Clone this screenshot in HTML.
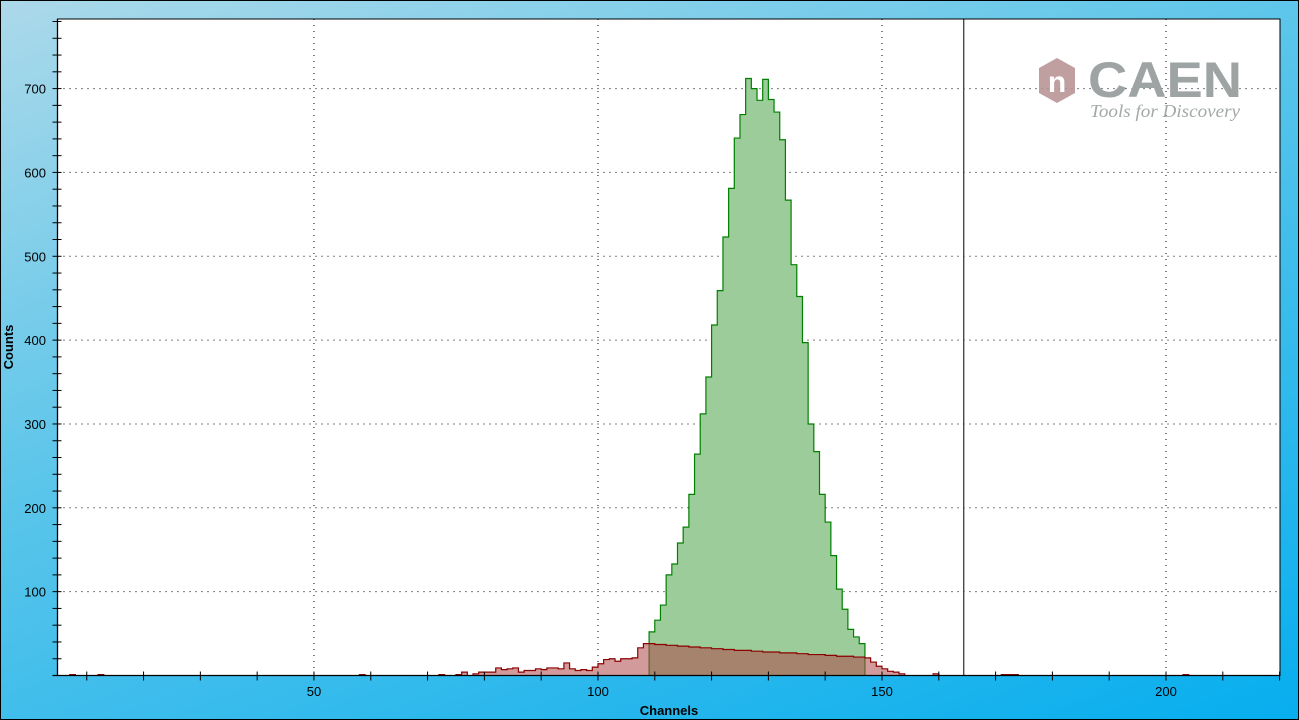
<!DOCTYPE html>
<html><head><meta charset="utf-8"><style>
html,body{margin:0;padding:0;}
body{width:1299px;height:720px;overflow:hidden;font-family:"Liberation Sans",sans-serif;}
#bg{position:absolute;left:0;top:0;width:1297px;height:718px;border:1px solid #000;background:linear-gradient(160deg,#acd9ea 0%,#5ec6ea 40%,#07aeee 100%);}
</style></head><body>
<div id="bg"></div>
<svg id="chart" width="1299" height="720" style="position:absolute;left:0;top:0"></svg>
<script>
const greenStart = 109;
const greenCounts = [52,66,84,120,133,158,177,216,264,312,356,418,459,523,581,641,669,712,700,686,711,687,672,639,567,490,452,397,300,267,216,183,143,103,79,55,46,38];
const redChannels = [7,12,58,72,75,76,78,79,80,81,82,83,84,85,86,87,88,89,90,91,92,93,94,95,96,97,98,99,100,101,102,103,104,105,106,107,108,
109,110,111,112,113,114,115,116,117,118,119,120,121,122,123,124,125,126,127,128,129,130,131,132,133,134,135,136,137,138,139,140,141,142,143,144,145,146,
147,148,149,150,151,152,153,159,171,172,173,203];
const redCounts = [1,1,1,1,1,4,2,4,4,4,9,7,8,9,4,6,6,8,7,9,9,8,15,8,6,7,6,10,14,19,20,17,20,20,21,33,38,
38,37,37,36,36,35,35,34,34,33,33,32,32,31,31,30,30,30,29,29,28,28,28,27,27,27,26,26,25,25,25,24,24,23,23,23,22,22,
21,16,11,8,5,4,2,2,1,1,1,1];
const xTickLabels = [50,100,150,200];
const yTickLabels = [100,200,300,400,500,600,700];
const markerChannel = 164.4;

const NS='http://www.w3.org/2000/svg';
const svg=document.getElementById('chart');
const L=57.5,R=1280,T=19,B=675.5;
const xMin=4.85,xMax=220.07,yMax=783;
const xs=c=>L+(c-xMin)/(xMax-xMin)*(R-L);
const ys=v=>B-v/yMax*(B-T);
function mk(tag,attrs,parent){const e=document.createElementNS(NS,tag);for(const k in attrs)e.setAttribute(k,attrs[k]);(parent||svg).appendChild(e);return e;}

const plot=mk('rect',{x:L,y:T,width:R-L,height:B-T,fill:'#fff',stroke:'#000','stroke-width':1});



xTickLabels.forEach(v=>{const g=mk('line',{x1:xs(v),x2:xs(v),y1:T,y2:B,stroke:'#000','stroke-dasharray':'1,5'});

});
yTickLabels.forEach(v=>{const g=mk('line',{x1:L,x2:R,y1:ys(v),y2:ys(v),stroke:'#000','stroke-dasharray':'1,5'});

});

const logo=mk('g',{});


mk('polygon',{points:'1057,58 1075,68 1075,93 1057,103 1039,93 1039,68',fill:'#b58e90',opacity:'0.85'},logo);
const nt=mk('text',{x:1057,y:92,'text-anchor':'middle','font-size':'30','font-weight':'bold',fill:'#fff'},logo);nt.textContent='n';
const ct=mk('text',{x:1088,y:97,'font-size':'50','font-weight':'bold',fill:'#9ea3a3','textLength':'154','lengthAdjust':'spacingAndGlyphs'},logo);ct.textContent='CAEN';
const tt=mk('text',{x:1090,y:117,'font-size':'18','font-style':'italic','font-family':'Liberation Serif,serif',fill:'#a3a8a8','textLength':'150','lengthAdjust':'spacingAndGlyphs'},logo);tt.textContent='Tools for Discovery';

function stepPath(chs,vals){
  let d='';
  chs.forEach((c,i)=>{const x0=xs(c),x1=xs(c+1),y=ys(vals[i]);
    d+=`M${x0},${B}L${x0},${y}L${x1},${y}L${x1},${B}Z`;});
  return d;
}
function outline(chs,vals){
  let d='';let prevEnd=null;
  chs.forEach((c,i)=>{const x0=xs(c),x1=xs(c+1),y=ys(vals[i]);
    if(prevEnd===c) d+=`L${x0},${y}`; else d+=`M${x0},${B}L${x0},${y}`;
    d+=`L${x1},${y}`;
    const nextC=chs[i+1];
    if(nextC!==c+1) d+=`L${x1},${B}`;
    prevEnd=c+1;});
  return d;
}
const gChs=greenCounts.map((v,i)=>greenStart+i);
const gf=mk('path',{d:stepPath(gChs,greenCounts),fill:'#9ccc99',stroke:'none'});


const go=mk('path',{d:outline(gChs,greenCounts),fill:'none',stroke:'#008000','stroke-width':1.2});


const rf=mk('path',{d:stepPath(redChannels,redCounts),fill:'rgba(174,73,73,0.556)',stroke:'none'});


const ro=mk('path',{d:outline(redChannels,redCounts),fill:'none',stroke:'#8b0000','stroke-width':1.2});



const ml=mk('line',{x1:xs(markerChannel),x2:xs(markerChannel),y1:T,y2:B,stroke:'#000','stroke-width':1});



const xa=mk('line',{x1:L-5,x2:R,y1:B,y2:B,stroke:'#000','stroke-width':1.3});


const ya=mk('line',{x1:L,x2:L,y1:T,y2:B,stroke:'#000','stroke-width':1.3});


for(let c=10;c<=220;c+=10){const t=mk('line',{x1:xs(c),x2:xs(c),y1:B-4,y2:B+5,stroke:'#000','stroke-width':1});

}
for(let v=20;v<yMax;v+=20){const t=mk('line',{x1:L-5,x2:L+4,y1:ys(v),y2:ys(v),stroke:'#000','stroke-width':1});

}
xTickLabels.forEach(v=>{const t=mk('text',{x:xs(v),y:696,'text-anchor':'middle','font-size':'13',fill:'#000'});t.textContent=v;

});
yTickLabels.forEach(v=>{const t=mk('text',{x:46,y:ys(v)+5,'text-anchor':'end','font-size':'13',fill:'#000'});t.textContent=v;

});
const xt=mk('text',{x:669,y:715,'text-anchor':'middle','font-size':'13','font-weight':'bold'});xt.textContent='Channels';


const yt=mk('text',{x:0,y:0,'text-anchor':'middle','font-size':'13','font-weight':'bold',transform:'translate(13,347) rotate(-90)'});yt.textContent='Counts';


</script>
</body></html>
